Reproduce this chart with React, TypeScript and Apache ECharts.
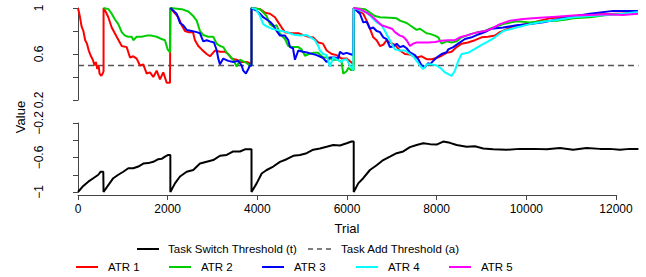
import React, { useEffect, useRef } from 'react';
import * as echarts from 'echarts';

// ---- data (Trial, Value) ----
const atr1 = [
  [0, 1], [40, 0.93], [80, 0.84], [120, 0.8], [160, 0.72], [200, 0.69], [240, 0.63], [290, 0.58], [330, 0.55],
  [370, 0.5], [400, 0.53], [430, 0.47], [460, 0.5], [480, 0.43], [520, 0.41], [550, 0.43], [570, 0.45], [570, 1],
  [600, 0.98], [640, 0.95], [676, 0.92], [752, 0.83], [863, 0.75], [975, 0.67], [1086, 0.66], [1160, 0.57], [1233, 0.58],
  [1309, 0.56], [1383, 0.5], [1456, 0.51], [1532, 0.43], [1606, 0.44], [1679, 0.4], [1755, 0.455], [1829, 0.38],
  [1902, 0.44], [1978, 0.35], [2052, 0.35], [2060, 0.35], [2060, 1],
  [2237, 0.92], [2313, 0.85], [2386, 0.8], [2460, 0.79], [2565, 0.79], [2609, 0.72], [2683, 0.67], [2759, 0.64],
  [2870, 0.6], [2944, 0.58], [3055, 0.63], [3167, 0.62], [3278, 0.62], [3352, 0.6], [3428, 0.56], [3539, 0.55],
  [3651, 0.53], [3762, 0.53], [3836, 0.52], [3870, 0.52], [3870, 1],
  [4059, 0.99], [4170, 0.96], [4282, 0.95], [4393, 0.92], [4467, 0.875], [4543, 0.83], [4616, 0.79], [4772, 0.78],
  [4913, 0.78], [5062, 0.76], [5174, 0.745], [5247, 0.745], [5359, 0.7], [5464, 0.69], [5546, 0.63], [5658, 0.6],
  [5769, 0.59], [5881, 0.56], [5992, 0.56], [6088, 0.53], [6150, 0.51], [6150, 1],
  [6362, 0.95], [6438, 0.89], [6512, 0.82], [6585, 0.745], [6661, 0.72], [6735, 0.67], [6808, 0.68], [6884, 0.72],
  [6958, 0.7], [7069, 0.68], [7181, 0.63], [7292, 0.6], [7404, 0.595], [7553, 0.57], [7665, 0.58], [7776, 0.555],
  [7888, 0.555], [7999, 0.565], [8110, 0.585], [8222, 0.61], [8334, 0.62], [8445, 0.66], [8557, 0.69], [8697, 0.7],
  [8853, 0.72], [9003, 0.745], [9143, 0.75], [9299, 0.76], [9411, 0.79], [9707, 0.84], [10006, 0.86], [10303, 0.89],
  [10526, 0.91], [10882, 0.925], [11262, 0.94], [11641, 0.945], [12013, 0.95], [12488, 0.955],
];

const atr2 = [
  [570, 1], [680, 0.99], [752, 0.95], [825, 0.9], [899, 0.86], [975, 0.79], [1048, 0.76], [1122, 0.75], [1198, 0.75],
  [1233, 0.72], [1309, 0.75], [1421, 0.75], [1532, 0.76], [1644, 0.76], [1755, 0.75], [1867, 0.73], [1940, 0.72],
  [2000, 0.64], [2052, 0.615], [2060, 0.615], [2060, 1],
  [2313, 0.99], [2460, 0.97], [2571, 0.93], [2647, 0.89], [2721, 0.8], [2794, 0.765], [2906, 0.75], [3017, 0.75],
  [3093, 0.69], [3167, 0.67], [3240, 0.66], [3316, 0.61], [3390, 0.58], [3463, 0.55], [3539, 0.49], [3613, 0.55],
  [3724, 0.53], [3836, 0.5], [3870, 0.5], [3870, 1],
  [4059, 0.99], [4208, 0.93], [4282, 0.86], [4349, 0.84], [4431, 0.85], [4505, 0.775], [4616, 0.73], [4690, 0.67],
  [4795, 0.66], [4913, 0.66], [4988, 0.64], [5062, 0.585], [5151, 0.6], [5247, 0.61], [5352, 0.61], [5470, 0.57],
  [5575, 0.57], [5693, 0.55], [5798, 0.55], [5881, 0.53], [5916, 0.43], [5992, 0.45], [6028, 0.48], [6088, 0.46],
  [6150, 0.46], [6150, 1],
  [6400, 0.99], [6512, 0.96], [6623, 0.93], [6735, 0.92], [6958, 0.915], [7107, 0.91], [7181, 0.89], [7330, 0.87],
  [7404, 0.85], [7553, 0.81], [7627, 0.82], [7776, 0.78], [7850, 0.775], [7961, 0.76], [8035, 0.745], [8110, 0.69],
  [8222, 0.71], [8334, 0.7], [8445, 0.71], [8557, 0.745], [8668, 0.76], [8780, 0.775], [8920, 0.79], [9076, 0.8],
  [9188, 0.82], [9484, 0.86], [9783, 0.885], [10080, 0.875], [10376, 0.885], [10675, 0.89], [10898, 0.9],
  [11045, 0.91], [11418, 0.92], [11790, 0.94], [12154, 0.95], [12488, 0.96],
];

const atr3 = [
  [2060, 1], [2201, 0.95], [2275, 0.87], [2348, 0.85], [2424, 0.81], [2536, 0.8], [2647, 0.79], [2721, 0.78],
  [2794, 0.71], [2870, 0.72], [2944, 0.71], [3033, 0.7], [3093, 0.635], [3129, 0.56], [3167, 0.51], [3240, 0.56],
  [3352, 0.54], [3463, 0.53], [3575, 0.54], [3651, 0.5], [3686, 0.455], [3746, 0.43], [3798, 0.47], [3836, 0.5],
  [3870, 0.5], [3870, 1],
  [3969, 0.98], [4059, 0.95], [4132, 0.92], [4208, 0.9], [4282, 0.88], [4355, 0.85], [4431, 0.8], [4505, 0.76],
  [4616, 0.76], [4690, 0.72], [4728, 0.66], [4795, 0.65], [4839, 0.55], [4913, 0.63], [5017, 0.62], [5136, 0.61],
  [5323, 0.59], [5470, 0.565], [5546, 0.53], [5620, 0.57], [5731, 0.57], [5805, 0.56], [5843, 0.62], [5910, 0.6],
  [5992, 0.61], [6066, 0.6], [6139, 0.59], [6150, 0.59], [6150, 1],
  [6289, 0.95], [6362, 0.875], [6438, 0.88], [6512, 0.82], [6585, 0.83], [6661, 0.8], [6735, 0.79], [6808, 0.745],
  [6884, 0.73], [6958, 0.66], [7031, 0.665], [7107, 0.69], [7181, 0.66], [7255, 0.67], [7330, 0.65], [7404, 0.615],
  [7515, 0.59], [7589, 0.555], [7665, 0.5], [7739, 0.485], [7812, 0.52], [7850, 0.51], [7924, 0.54], [7999, 0.57],
  [8110, 0.6], [8222, 0.615], [8258, 0.64], [8370, 0.66], [8481, 0.69], [8630, 0.73], [8780, 0.745], [8927, 0.77],
  [9076, 0.79], [9225, 0.82], [9484, 0.83], [9783, 0.85], [10080, 0.86], [10376, 0.875], [10675, 0.9],
  [11121, 0.93], [11418, 0.95], [11937, 0.975], [12488, 0.975],
];

const atr4 = [
  [3870, 1], [3969, 0.99], [4059, 0.93], [4132, 0.86], [4208, 0.84], [4319, 0.82], [4431, 0.81], [4543, 0.8],
  [4654, 0.79], [4801, 0.77], [4951, 0.76], [5100, 0.765], [5211, 0.74], [5285, 0.72], [5359, 0.67], [5397, 0.63],
  [5470, 0.6], [5546, 0.59], [5620, 0.49], [5693, 0.57], [5805, 0.545], [5881, 0.53], [5916, 0.55], [5992, 0.555],
  [6066, 0.5], [6139, 0.46], [6150, 0.46], [6150, 1],
  [6438, 0.96], [6549, 0.92], [6661, 0.875], [6772, 0.85], [6846, 0.8], [6920, 0.745], [6995, 0.69], [7069, 0.64],
  [7181, 0.63], [7292, 0.63], [7404, 0.6], [7477, 0.58], [7553, 0.54], [7627, 0.5], [7702, 0.47], [7784, 0.51],
  [7888, 0.51], [7999, 0.5], [8110, 0.47], [8184, 0.44], [8334, 0.41], [8407, 0.455], [8481, 0.54], [8557, 0.6],
  [8697, 0.61], [8853, 0.645], [9003, 0.68], [9150, 0.71], [9299, 0.745], [9484, 0.8], [9783, 0.83], [10080, 0.86],
  [10370, 0.88], [10675, 0.895], [11045, 0.92], [11418, 0.93], [11790, 0.94], [12160, 0.95], [12488, 0.965],
];

const atr5 = [
  [6150, 1], [6289, 0.99], [6438, 0.96], [6549, 0.93], [6661, 0.89], [6772, 0.85], [6920, 0.83], [7002, 0.82],
  [7069, 0.79], [7181, 0.76], [7255, 0.75], [7330, 0.72], [7404, 0.67], [7477, 0.69], [7553, 0.7], [7694, 0.7],
  [7812, 0.7], [7961, 0.705], [8110, 0.715], [8251, 0.72], [8407, 0.72], [8519, 0.745], [8653, 0.76], [8780, 0.775],
  [8920, 0.79], [9076, 0.8], [9225, 0.82], [9411, 0.86], [9634, 0.89], [9930, 0.905], [10303, 0.915], [10675, 0.925],
  [11039, 0.935], [11418, 0.94], [11790, 0.945], [12154, 0.94], [12488, 0.95],
];

const switchThreshold = [
  [0, -1], [118, -0.93], [230, -0.88], [341, -0.84], [453, -0.8], [506, -0.765], [564, -0.765], [570, -0.765], [570, -1],
  [676, -0.92], [787, -0.84], [899, -0.8], [1010, -0.765], [1122, -0.725], [1233, -0.725], [1345, -0.705],
  [1456, -0.67], [1568, -0.665], [1679, -0.65], [1791, -0.62], [1866, -0.615], [1940, -0.59], [2014, -0.57],
  [2060, -0.57], [2060, -1],
  [2163, -0.9], [2275, -0.82], [2424, -0.765], [2571, -0.745], [2721, -0.67], [2870, -0.65], [3017, -0.63],
  [3167, -0.58], [3316, -0.57], [3463, -0.53], [3613, -0.53], [3724, -0.505], [3836, -0.505], [3870, -0.505], [3870, -1],
  [3985, -0.9], [4097, -0.785], [4208, -0.745], [4355, -0.705], [4505, -0.65], [4654, -0.62], [4801, -0.58],
  [4951, -0.57], [5100, -0.55], [5247, -0.51], [5397, -0.495], [5546, -0.475], [5693, -0.455], [5843, -0.46],
  [5992, -0.435], [6104, -0.415], [6150, -0.415], [6150, -1],
  [6251, -0.9], [6362, -0.84], [6512, -0.745], [6661, -0.69], [6808, -0.63], [6958, -0.59], [7107, -0.55],
  [7255, -0.53], [7404, -0.48], [7553, -0.455], [7700, -0.435], [7850, -0.445], [7999, -0.45], [8146, -0.415],
  [8296, -0.43], [8445, -0.455], [8668, -0.475], [8853, -0.47], [9038, -0.495], [9261, -0.505], [9560, -0.51],
  [9857, -0.5], [10147, -0.5], [10452, -0.505], [10749, -0.49], [11045, -0.51], [11344, -0.49], [11641, -0.5],
  [11864, -0.5], [12087, -0.51], [12310, -0.5], [12500, -0.5],
];

const addThreshold = [[0, 0.5], [12500, 0.5]];

const xTicks = [0, 2000, 4000, 6000, 8000, 10000, 12000];
const topLabelled = [0.2, 0.6, 1];
const bottomLabelled = [-1, -0.6, -0.2];

const atrNames = ['ATR 1', 'ATR 2', 'ATR 3', 'ATR 4', 'ATR 5'];
const atrColors = ['#FF0000', '#00CD00', '#0000FF', '#00FFFF', '#FF00FF'];
const atrData = [atr1, atr2, atr3, atr4, atr5];

const FONT = '"Liberation Sans", Arial, Helvetica, sans-serif';

function labelFmt(list: number[]) {
  return (v: number) => {
    const hit = list.find((s) => Math.abs(s - v) < 1e-6);
    return hit === undefined ? '' : String(hit).replace('-', '\u2212');
  };
}

export default function App() {
  const ref = useRef<HTMLDivElement>(null);
  useEffect(() => {
    document.body.style.margin = '0';
    if (!ref.current) return;
    const chart = echarts.init(ref.current, null, { renderer: 'svg' });

    const axisColor = '#444';
    const legendRow1Y = 249;
    const legendRow2Y = 267;
    const atrLegendX = [76, 169, 262, 356, 449];
    const tickMax = xTicks[xTicks.length - 1];
    const dataMax = 12600;
    const plotLeft = 78;
    const axisRight = 30;
    const pxPerUnit = (646 - plotLeft - axisRight) / tickMax;
    const dataRight = 646 - plotLeft - dataMax * pxPerUnit;
    const legendFont = `11.5px ${FONT}`;

    const graphic: any[] = [
      {
        type: 'text', x: 20, y: 117, rotation: Math.PI / 2,
        style: { text: 'Value', font: `13px ${FONT}`, fill: '#000', align: 'center', verticalAlign: 'middle' },
      },
      { type: 'line', shape: { x1: 137, y1: legendRow1Y, x2: 159, y2: legendRow1Y }, style: { stroke: '#000', lineWidth: 2 } },
      {
        type: 'text', x: 168, y: legendRow1Y,
        style: { text: 'Task Switch Threshold (t)', font: legendFont, fill: '#000', verticalAlign: 'middle' },
      },
      {
        type: 'line', shape: { x1: 308, y1: legendRow1Y, x2: 331, y2: legendRow1Y },
        style: { stroke: '#000', lineWidth: 1.2, lineDash: [5, 4] },
      },
      {
        type: 'text', x: 341, y: legendRow1Y,
        style: { text: 'Task Add Threshold (a)', font: legendFont, fill: '#000', verticalAlign: 'middle' },
      },
    ];
    atrNames.forEach((n, i) => {
      const x0 = atrLegendX[i];
      graphic.push({
        type: 'line', shape: { x1: x0, y1: legendRow2Y, x2: x0 + 22, y2: legendRow2Y },
        style: { stroke: atrColors[i], lineWidth: 2 },
      });
      graphic.push({
        type: 'text', x: x0 + 32, y: legendRow2Y,
        style: { text: n, font: legendFont, fill: '#000', verticalAlign: 'middle' },
      });
    });

    const lineSeries = (name: string, data: number[][], color: string, idx: number, extra: any = {}) => ({
      name, type: 'line', data, xAxisIndex: idx, yAxisIndex: idx, symbol: 'none', showSymbol: false,
      clip: false, silent: true, lineStyle: { color, width: 2, ...extra },
    });

    const yAxisCommon = {
      type: 'value', interval: 0.2, offset: 23,
      axisLine: { show: true, lineStyle: { color: axisColor, width: 1 } },
      axisTick: { show: true, length: 5, lineStyle: { color: axisColor } },
      splitLine: { show: false },
    };

    chart.setOption({
      animation: false,
      textStyle: { fontFamily: FONT },
      grid: [
        { left: plotLeft, right: dataRight, top: 8, height: 92 },
        { left: plotLeft, right: dataRight, top: 123, height: 69 },
        { left: plotLeft, right: axisRight, top: 123, height: 69 },
      ],
      xAxis: [
        { type: 'value', gridIndex: 0, min: 0, max: dataMax, show: false },
        { type: 'value', gridIndex: 1, min: 0, max: dataMax, show: false },
        {
          type: 'value', gridIndex: 2, min: 0, max: tickMax, interval: 2000, offset: 3,
          axisLine: { show: true, lineStyle: { color: axisColor, width: 1 } },
          axisTick: { show: true, length: 5, lineStyle: { color: axisColor } },
          splitLine: { show: false },
          axisLabel: {
            fontSize: 12, color: '#000', margin: 8, fontFamily: FONT, showMinLabel: true, showMaxLabel: true,
            formatter: (v: number) => String(v),
          },
          name: 'Trial', nameLocation: 'middle', nameGap: 27,
          nameTextStyle: { fontSize: 13, color: '#000', fontFamily: FONT },
        },
      ],
      yAxis: [
        {
          ...yAxisCommon, gridIndex: 0, min: 0.2, max: 1,
          axisLabel: { rotate: 90, fontSize: 12, color: '#000', margin: 10, fontFamily: FONT, formatter: labelFmt(topLabelled) },
        },
        {
          ...yAxisCommon, gridIndex: 1, min: -1, max: -0.2,
          axisLabel: { rotate: 90, fontSize: 12, color: '#000', margin: 10, fontFamily: FONT, formatter: labelFmt(bottomLabelled) },
        },
        { type: 'value', gridIndex: 2, min: -1, max: -0.2, show: false },
      ],
      graphic,
      series: [
        lineSeries('Task Add Threshold (a)', addThreshold, '#555', 0, { width: 1.5, type: [6, 4] }),
        ...atrNames.map((n, i) => lineSeries(n, atrData[i], atrColors[i], 0)),
        lineSeries('Task Switch Threshold (t)', switchThreshold, '#000', 1),
      ],
    });
    return () => chart.dispose();
  }, []);
  return <div ref={ref} style={{ width: 646, height: 277 }} />;
}
